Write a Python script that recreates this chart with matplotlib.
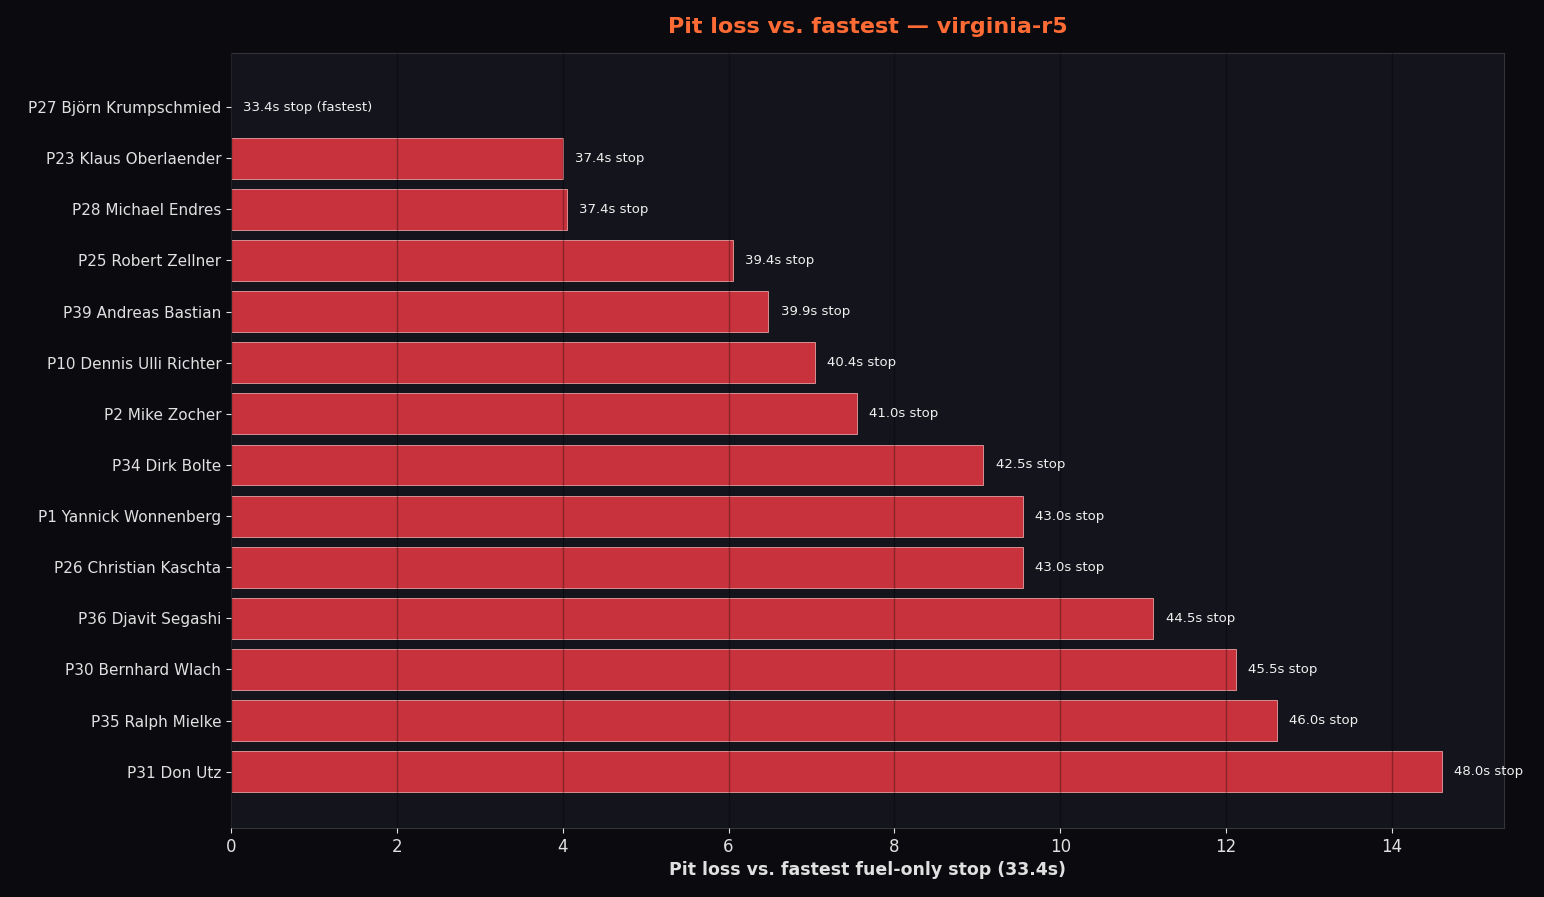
import matplotlib
matplotlib.use("Agg")
import matplotlib.pyplot as plt

drivers = ["P27 Björn Krumpschmied", "P23 Klaus Oberlaender", "P28 Michael Endres",
           "P25 Robert Zellner", "P39 Andreas Bastian", "P10 Dennis Ulli Richter",
           "P2 Mike Zocher", "P34 Dirk Bolte", "P1 Yannick Wonnenberg",
           "P26 Christian Kaschta", "P36 Djavit Segashi", "P30 Bernhard Wlach",
           "P35 Ralph Mielke", "P31 Don Utz"]
loss = [0.0, 4.0, 4.05, 6.05, 6.48, 7.04, 7.55, 9.07, 9.55, 9.55, 11.12, 12.12, 12.61, 14.6]
stops = ["33.4s stop (fastest)", "37.4s stop", "37.4s stop", "39.4s stop", "39.9s stop",
         "40.4s stop", "41.0s stop", "42.5s stop", "43.0s stop", "43.0s stop",
         "44.5s stop", "45.5s stop", "46.0s stop", "48.0s stop"]

fig, ax = plt.subplots(figsize=(15.44, 8.97), dpi=100)
fig.patch.set_facecolor("#0b0b0f")
ax.set_facecolor("#14141c")
fig.subplots_adjust(left=0.1496, right=0.974, top=0.941, bottom=0.077)

y = list(range(len(drivers)))
ax.barh(y, loss, height=0.8, color="#c8323c", edgecolor="#e8a0a0", linewidth=0.6, zorder=2)
for yi, v, s in zip(y, loss, stops):
    ax.text(v + 0.15, yi, s, va="center", ha="left", color="#f0f0f0", fontsize=9.5, zorder=4)

ax.set_yticks(y)
ax.set_yticklabels(drivers, color="#e0e0e0", fontsize=11)
ax.invert_yaxis()
ax.set_ylim(len(drivers) - 1 + 1.1, -1.06)
ax.set_xlim(0, 15.35)
ax.tick_params(axis="x", colors="#e0e0e0", labelsize=12)
ax.tick_params(axis="y", colors="#e0e0e0")
ax.grid(axis="x", color="#000000", alpha=0.3, linewidth=1, zorder=3)
ax.set_axisbelow(False)
for sp in ax.spines.values():
    sp.set_color("#333338")

ax.set_xlabel("Pit loss vs. fastest fuel-only stop (33.4s)", color="#e0e0e0",
              fontsize=12.5, fontweight="bold")
ax.set_title("Pit loss vs. fastest — virginia-r5", color="#ff6b35",
             fontsize=16, fontweight="bold", pad=14)

fig.savefig("out.png", dpi=100, facecolor=fig.get_facecolor())
